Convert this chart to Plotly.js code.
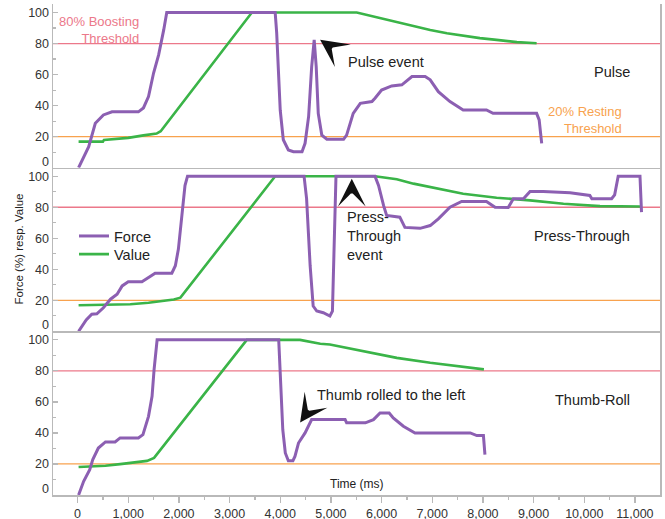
<!DOCTYPE html>
<html><head><meta charset="utf-8">
<script src="https://cdn.plot.ly/plotly-3.0.1.min.js"></script>
<style>html,body{margin:0;padding:0;background:#fff}#chart{width:665px;height:519px}</style>
</head><body><div id="chart"></div>
<script>
// ---- data (time in ms, values in %) ----
const panelNames = ['Pulse', 'Press-Through', 'Thumb-Roll'];
const thresholds = [80, 20];
const thresholdLabels = ['80% Boosting<br>Threshold', '20% Resting<br>Threshold'];

const pulseForceT = [20, 90, 220, 350, 510, 680, 1200, 1300, 1400, 1500, 1600, 1700, 1760, 3900, 3930, 4000, 4060, 4160, 4260, 4430, 4490, 4560, 4620, 4670, 4710, 4750, 4820, 4920, 5250, 5310, 5440, 5580, 5810, 5870, 6000, 6200, 6400, 6600, 6860, 6960, 7120, 7350, 7610, 8070, 8200, 9060, 9110, 9160];
const pulseForce  = [0, 5, 13.5, 28.6, 34, 36, 36, 38.5, 45.8, 61, 72.7, 88.8, 100, 100, 86.7, 37, 18, 11.4, 10.3, 10.3, 15.7, 33, 65, 82.4, 65, 35, 21, 18.3, 18.3, 21, 35, 41.5, 42.6, 44.8, 50, 52.7, 53.4, 58.7, 58.7, 56.6, 49, 42.6, 37.2, 37.2, 35, 35, 30.8, 15.7];
const pulseValueT = [20, 500, 520, 1000, 1300, 1560, 1640, 3440, 5510, 5840, 6300, 6630, 6960, 7290, 7610, 7940, 8270, 8670, 9060];
const pulseValue  = [16.8, 16.8, 17.8, 19.2, 20.8, 22, 23.5, 100, 100, 97.4, 94.2, 91.4, 88.8, 86.7, 85, 83.5, 82.4, 80.9, 80.2];

const pressForceT = [20, 90, 170, 280, 380, 510, 650, 780, 880, 1000, 1270, 1370, 1530, 1860, 1930, 1990, 2060, 2120, 2170, 4470, 4520, 4590, 4650, 4720, 4850, 4980, 5030, 5070, 5100, 5870, 5940, 6040, 6100, 6360, 6460, 6760, 6960, 7120, 7350, 7580, 8070, 8240, 8500, 8600, 8800, 8930, 9190, 9720, 10110, 10150, 10540, 10600, 10670, 11100, 11130];
const pressForce  = [0, 3.4, 7.3, 11, 11.3, 15.2, 20.7, 23.9, 29.3, 31.9, 31.9, 34, 37.5, 37.5, 42.3, 53, 74.7, 94, 100, 100, 85.5, 42.3, 16.3, 13.1, 12, 9.9, 13, 64, 100, 100, 94, 81, 74.7, 73.6, 67, 66.4, 68.2, 72.5, 80, 83.7, 83.7, 80, 79.8, 85.5, 85.5, 90.2, 90.2, 89.4, 87.6, 85.5, 85.5, 88, 100, 100, 76.8];
const pressValueT = [20, 1040, 1400, 1700, 1900, 2030, 3900, 5870, 6300, 6630, 6960, 7610, 8270, 8930, 9590, 10310, 11100];
const pressValue  = [16.8, 17.5, 18.4, 19.5, 20.5, 21.7, 100, 100, 98, 95.2, 93, 88.7, 86.1, 84.4, 82.2, 80.7, 80.5];

const rollForceT = [20, 120, 240, 300, 410, 550, 740, 840, 1200, 1290, 1400, 1470, 1510, 1570, 3970, 4010, 4050, 4100, 4160, 4250, 4290, 4360, 4490, 4620, 4750, 5280, 5310, 5680, 5840, 5970, 6150, 6230, 6430, 6660, 7750, 7880, 8010, 8040];
const rollForce  = [0, 8.8, 16.3, 22.8, 30.3, 34.2, 34.2, 36.8, 36.8, 38.9, 50.7, 63.6, 80.8, 100, 100, 74.4, 42.1, 27.1, 22.1, 22.1, 24.9, 33.5, 40, 48.6, 48.6, 48.6, 46.5, 46.5, 48.6, 52.9, 52.9, 49.7, 44.3, 40, 40, 38.3, 38.3, 26];
const rollValueT = [20, 550, 840, 1100, 1370, 1510, 3340, 4390, 4790, 4980, 5640, 6300, 6960, 7610, 8020];
const rollValue  = [18, 18.9, 19.9, 21, 22, 23.9, 100, 100, 97.5, 97, 92.6, 88.4, 85.2, 82.6, 81];

// ---- styles ----
const FONT = 'Liberation Sans, Arial, Helvetica, sans-serif';
const PURPLE = 'rgb(140,95,178)';
const GREEN = 'rgb(58,180,72)';
const PINK = 'rgb(236,120,138)';
const ORANGE = 'rgb(248,162,78)';
const AXIS = 'rgb(185,185,185)';

const forces = [[pulseForceT, pulseForce], [pressForceT, pressForce], [rollForceT, rollForce]];
const values = [[pulseValueT, pulseValue], [pressValueT, pressValue], [rollValueT, rollValue]];
const axSuffix = ['', '2', '3'];

const traces = [];
for (let i = 0; i < 3; i++) {
  traces.push({
    x: values[i][0], y: values[i][1], type: 'scatter', mode: 'lines', name: 'Value',
    legend: 'legend2', showlegend: i === 0,
    line: {color: GREEN, width: 2.6},
    xaxis: 'x' + axSuffix[i], yaxis: 'y' + axSuffix[i]
  });
}
for (let i = 0; i < 3; i++) {
  traces.push({
    x: forces[i][0], y: forces[i][1], type: 'scatter', mode: 'lines', name: 'Force',
    legend: 'legend', showlegend: i === 0,
    line: {color: PURPLE, width: 3},
    xaxis: 'x' + axSuffix[i], yaxis: 'y' + axSuffix[i]
  });
}

const legFont = {size: 14.5, color: '#222', family: FONT};
const domains = [[2/3, 1], [1/3, 2/3], [0, 1/3]];
const layout = {
  width: 665, height: 519,
  margin: {l: 53, r: 5, t: 4, b: 24},
  paper_bgcolor: '#fff', plot_bgcolor: '#fff',
  font: {family: FONT, color: '#222'},
  showlegend: true,
  legend: {x: 0.0346, xanchor: 'left', y: 0.560, yanchor: 'top', bgcolor: 'rgba(0,0,0,0)', font: legFont},
  legend2: {x: 0.0346, xanchor: 'left', y: 0.523, yanchor: 'top', bgcolor: 'rgba(0,0,0,0)', font: legFont},
  shapes: [], annotations: []
};

const xbase = {range: [-485, 11495], showgrid: false, zeroline: false, showline: true,
               linecolor: AXIS, linewidth: 1.5};
for (let i = 0; i < 3; i++) {
  const xa = Object.assign({}, xbase, {anchor: 'y' + axSuffix[i]});
  if (i < 2) {
    xa.showticklabels = false; xa.ticks = ''; xa.matches = 'x3';
  } else {
    Object.assign(xa, {ticks: 'outside', ticklen: 6, tickwidth: 1.2, tickcolor: AXIS, dtick: 1000, tick0: 0,
      tickformat: ',d', tickfont: {size: 12.5, color: '#333', family: FONT},
      minor: {ticks: 'outside', ticklen: 3, tickwidth: 1.2, tickcolor: AXIS, dtick: 500, tick0: 0, showgrid: false}});
  }
  layout['xaxis' + axSuffix[i]] = xa;
  layout['yaxis' + axSuffix[i]] = {
    domain: domains[i], anchor: 'x' + axSuffix[i], range: [0, 105.5],
    showgrid: false, zeroline: false, showline: true, mirror: true, linecolor: AXIS, linewidth: 1.5,
    ticks: 'inside', ticklen: 5, tickwidth: 1.2, tickcolor: AXIS,
    tickvals: [0, 20, 40, 60, 80, 100], ticktext: ['', '20', '40', '60', '80', '100'],
    tickfont: {size: 12.5, color: '#333', family: FONT},
    minor: {ticks: 'inside', ticklen: 3, tickwidth: 1.2, tickcolor: AXIS, dtick: 10, tick0: 0, showgrid: false}
  };
  // threshold lines
  const colors = [PINK, ORANGE];
  thresholds.forEach((t, k) => {
    layout.shapes.push({type: 'line', xref: 'paper', x0: 0, x1: 1, yref: 'y' + axSuffix[i], y0: t, y1: t,
      line: {color: colors[k], width: 1.3}, layer: 'below'});
  });
  // shifted zero label
  layout.annotations.push({text: '0', xref: 'paper', x: 0, xanchor: 'right', xshift: -2,
    yref: 'y' + axSuffix[i], y: 0, yanchor: 'middle', yshift: 6, showarrow: false,
    font: {size: 12.5, color: '#333', family: FONT}});
  // panel name
  layout.annotations.push({text: panelNames[i], xref: 'x' + axSuffix[i], x: 10935, xanchor: 'right',
    yref: 'y' + axSuffix[i], y: 61.5, yanchor: 'middle', showarrow: false,
    font: {size: 14.5, color: '#222', family: FONT}});
}

// threshold labels (top panel)
layout.annotations.push({text: thresholdLabels[0], xref: 'x', x: 1260, xanchor: 'right', align: 'right',
  yref: 'y', y: 89, yanchor: 'middle', showarrow: false, font: {size: 13, color: PINK, family: FONT}});
layout.annotations.push({text: thresholdLabels[1], xref: 'x', x: 10790, xanchor: 'right', align: 'right',
  yref: 'y', y: 31, yanchor: 'middle', showarrow: false, font: {size: 13, color: ORANGE, family: FONT}});

// event labels and arrows
const evFont = {size: 14.5, color: '#222', family: FONT};
layout.annotations.push({text: 'Pulse event', xref: 'x', x: 5300, xanchor: 'left', yref: 'y', y: 68.4,
  yanchor: 'middle', showarrow: false, font: evFont});
layout.annotations.push({text: '', xref: 'x', x: 4787, yref: 'y', y: 82.4, showarrow: true,
  arrowhead: 3, arrowsize: 3.3, arrowwidth: 1.4, arrowcolor: '#111', ax: 10, ay: 7});
layout.annotations.push({text: 'Press-<br>Through<br>event', xref: 'x2', x: 5280, xanchor: 'left', align: 'left',
  yref: 'y2', y: 61.2, yanchor: 'middle', showarrow: false, font: evFont});
layout.annotations.push({text: '', xref: 'x2', x: 5412, yref: 'y2', y: 98.4, showarrow: true,
  arrowhead: 3, arrowsize: 3.3, arrowwidth: 1.4, arrowcolor: '#111', ax: 0, ay: 12});
layout.annotations.push({text: 'Thumb rolled to the left', xref: 'x3', x: 4688, xanchor: 'left',
  yref: 'y3', y: 64.7, yanchor: 'middle', showarrow: false, font: evFont});
layout.annotations.push({text: '', xref: 'x3', x: 4392, yref: 'y3', y: 46.8, showarrow: true,
  arrowhead: 3, arrowsize: 3.3, arrowwidth: 1.4, arrowcolor: '#111', ax: 7, ay: -10});

// axis titles
layout.annotations.push({text: 'Time (ms)', xref: 'paper', x: 0.5, xanchor: 'center', yref: 'paper', y: 0,
  yanchor: 'middle', yshift: 11, showarrow: false, font: {size: 12, color: '#222', family: FONT}});
layout.annotations.push({text: 'Force (%) resp. Value', textangle: -90, xref: 'paper', x: 0, xanchor: 'center',
  xshift: -35, yref: 'paper', y: 0.5, yanchor: 'middle', showarrow: false,
  font: {size: 11.5, color: '#222', family: FONT}});

Plotly.newPlot('chart', traces, layout, {displayModeBar: false, staticPlot: true});
</script>
</body></html>
